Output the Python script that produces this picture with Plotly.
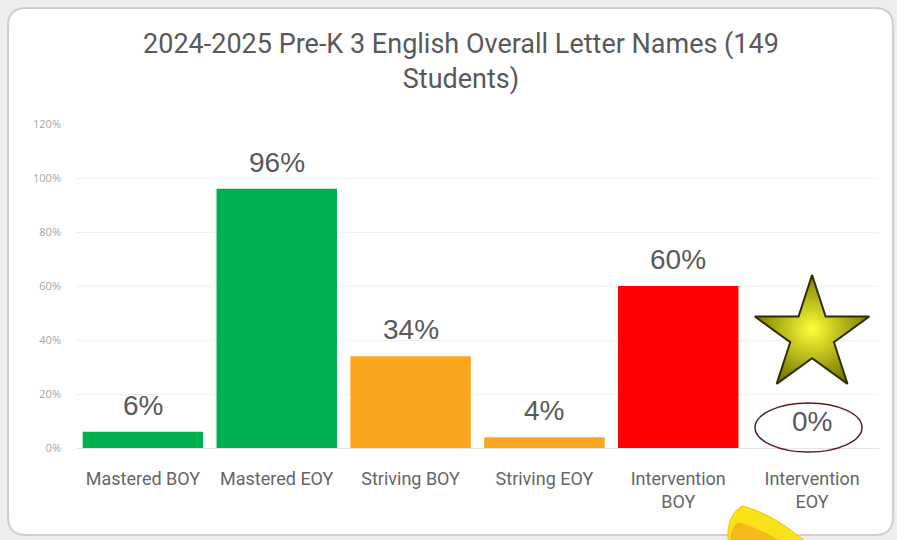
import plotly.graph_objects as go

categories = ["Mastered BOY", "Mastered EOY", "Striving BOY", "Striving EOY",
              "Intervention<br>BOY", "Intervention<br>EOY"]
values = [0.06, 0.96, 0.34, 0.04, 0.60, 0.00]
colors = ["#00B050", "#00B050", "#FBA61F", "#FBA61F", "#FF0000", "#FF0000"]
y_ticks = [0, 0.2, 0.4, 0.6, 0.8, 1.0, 1.2]
y_tick_labels = ["0%", "20%", "40%", "60%", "80%", "100%", "120%"]
title_text = "2024-2025 Pre-K 3 English Overall Letter Names (149<br>Students)"
star_level = 0.418

W, H = 897, 540
L, R, T, B = 76, 18, 124, 92
pw, ph = W - L - R, H - T - B

def px(x):
    return (x - L) / pw

def py(y):
    return (H - B - y) / ph

def rounded_rect(x0, y0, x1, y1, r):
    return (f"M {px(x0 + r)} {py(y0)} L {px(x1 - r)} {py(y0)} "
            f"Q {px(x1)} {py(y0)} {px(x1)} {py(y0 + r)} "
            f"L {px(x1)} {py(y1 - r)} Q {px(x1)} {py(y1)} {px(x1 - r)} {py(y1)} "
            f"L {px(x0 + r)} {py(y1)} Q {px(x0)} {py(y1)} {px(x0)} {py(y1 - r)} "
            f"L {px(x0)} {py(y0 + r)} Q {px(x0)} {py(y0)} {px(x0 + r)} {py(y0)} Z")

fig = go.Figure()
fig.add_trace(go.Bar(
    x=categories, y=values, marker=dict(color=colors, line=dict(width=0)),
    hoverinfo="skip",
))

# star decoration above the last category
fig.add_trace(go.Scatter(
    x=[categories[5]], y=[star_level], mode="markers",
    marker=dict(symbol="star", size=86, color="#7C7C00",
                gradient=dict(type="radial", color="#FFFF3A"),
                line=dict(color="#2E2E00", width=2)),
    hoverinfo="skip", cliponaxis=False,
))

annotations = [
    dict(x=c, y=v, xref="x", yref="y", text=f"{round(v * 100)}%",
         showarrow=False, yanchor="bottom", yshift=9,
         font=dict(family="Liberation Sans, Arial", size=28, color="#595959"))
    for c, v in zip(categories, values)
]

shapes = [
    dict(type="path", xref="paper", yref="paper", layer="below",
         path=rounded_rect(8, 8, 893, 535, 18),
         fillcolor="white", line=dict(color="#CFCFCF", width=2)),
    # yellow blob at bottom
    dict(type="path", xref="paper", yref="paper", layer="above",
         path=(f"M {px(728)} {py(541)} Q {px(726)} {py(515)} {px(742)} {py(506)} "
               f"Q {px(770)} {py(512)} {px(805)} {py(541)} Z"),
         fillcolor="#F9E21A", line=dict(color="#F2C500", width=1)),
    dict(type="path", xref="paper", yref="paper", layer="above",
         path=(f"M {px(730)} {py(541)} Q {px(731)} {py(528)} {px(738)} {py(522)} "
               f"Q {px(760)} {py(528)} {px(780)} {py(541)} Z"),
         fillcolor="#F6B91A", line=dict(width=0)),
    # ellipse around 0%
    dict(type="circle", xref="paper", yref="paper", layer="above",
         x0=px(755), x1=px(862), y0=py(452), y1=py(403),
         line=dict(color="#5A1E22", width=1.5), fillcolor="rgba(0,0,0,0)"),
]

fig.update_layout(
    width=W, height=H,
    margin=dict(l=L, r=R, t=T, b=B, autoexpand=False),
    paper_bgcolor="#EDEDED", plot_bgcolor="rgba(0,0,0,0)",
    bargap=0.1, showlegend=False,
    title=dict(text=title_text, x=461 / W, xanchor="center", xref="container",
               y=1 - 53 / H, yanchor="top", yref="container",
               font=dict(family="Roboto", size=27, color="#595959")),
    xaxis=dict(tickfont=dict(family="Roboto", size=18, color="#666666"),
               range=[-0.5, 5.5], showline=True, linecolor="#E3E3E3",
               linewidth=1, ticks="", ticklabelstandoff=14),
    yaxis=dict(range=[0, 1.2], tickvals=y_ticks, ticktext=y_tick_labels,
               tickfont=dict(family="Open Sans", size=11, color="#A6A6A6"),
               showgrid=True, gridcolor="#EFEFEF", zeroline=False, ticks="",
               ticklabelstandoff=14),
    shapes=shapes,
    annotations=annotations,
)

fig.write_html("out.html", config={"displayModeBar": False},
               post_script="document.body.style.margin='0';")
